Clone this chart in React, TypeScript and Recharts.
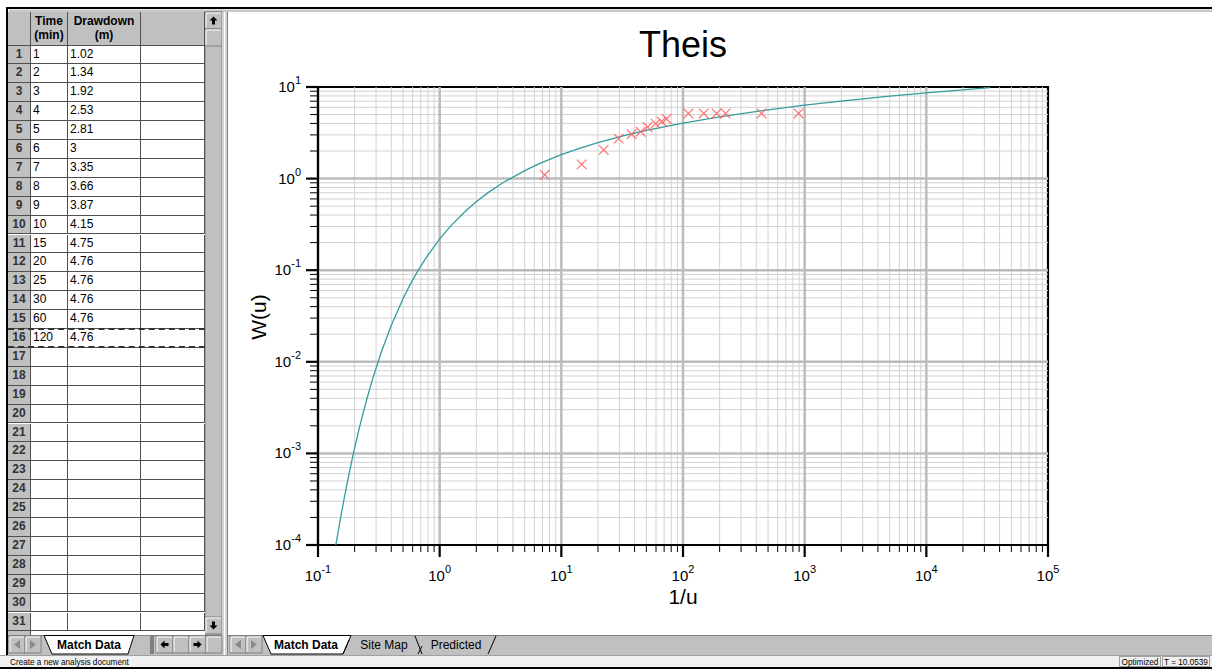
import React from "react";
import { ScatterChart, Scatter, XAxis, YAxis, ReferenceLine, ReferenceArea } from "recharts";

// spreadsheet contents
const times = [1, 2, 3, 4, 5, 6, 7, 8, 9, 10, 15, 20, 25, 30, 60, 120];
const drawdowns = ["1.02", "1.34", "1.92", "2.53", "2.81", "3", "3.35", "3.66", "3.87", "4.15", "4.75", "4.76", "4.76", "4.76", "4.76", "4.76"];

// matched data points (1/u, W(u))
const matchInvU = [7.3, 14.7, 22.3, 29.6, 37.8, 44.9, 51.2, 59.6, 66.7, 73.3, 111, 148, 189, 224, 442, 891];
const matchW = [1.1, 1.43, 2.06, 2.73, 3.05, 3.25, 3.65, 3.98, 4.2, 4.48, 5.13, 5.14, 5.14, 5.14, 5.14, 5.14];

// Theis type curve
const curveInvU = [0.14, 0.1429, 0.1538, 0.1667, 0.1818, 0.2, 0.2222, 0.25, 0.2857, 0.3333, 0.4, 0.5, 0.5714, 0.6667, 0.8, 1, 1.25, 1.667, 2, 2.5, 3.333, 5, 6.667, 10, 14.29, 20, 33.33, 50, 100, 200, 500, 1000, 2000, 5000, 10000, 20000, 33333];
const curveW = [1.0e-4, 1.15e-4, 2.03e-4, 3.6e-4, 6.41e-4, 1.148e-3, 2.073e-3, 3.779e-3, 6.97e-3, 1.305e-2, 2.491e-2, 4.89e-2, 6.95e-2, 0.1, 0.1464, 0.2194, 0.3106, 0.4544, 0.5598, 0.7024, 0.9057, 1.2227, 1.4645, 1.8229, 2.1509, 2.4679, 2.9592, 3.3547, 4.0379, 4.7261, 5.6394, 6.3315, 7.0237, 7.9398, 8.6332, 9.3263, 9.8372];

const xDecades = [0.1, 1, 10, 100, 1000, 10000, 100000];
const yDecades = [0.0001, 0.001, 0.01, 0.1, 1, 10];
const xExp = ["-1", "0", "1", "2", "3", "4", "5"];
const yExp = ["-4", "-3", "-2", "-1", "0", "1"];
const mult = [2, 3, 4, 5, 6, 7, 8, 9];

const xMinor = xDecades.slice(0, -1).flatMap((d) => mult.map((m) => d * m));
const yMinor = yDecades.slice(0, -1).flatMap((d) => mult.map((m) => d * m));
const xTicks = [...xDecades, ...xMinor].sort((a, b) => a - b);
const yTicks = [...yDecades, ...yMinor].sort((a, b) => a - b);

const curveData = curveInvU.map((x, i) => ({ x, y: curveW[i] }));
const matchData = matchInvU.map((x, i) => ({ x, y: matchW[i] }));

const font = "'Liberation Sans', Arial, Helvetica, sans-serif";

const XTick = (props: any) => {
  const { x, y, payload } = props;
  const i = xDecades.indexOf(payload.value);
  const major = i >= 0;
  return (
    <g>
      <line x1={x} x2={x} y1={y} y2={y + (major ? 12 : 7)} stroke="#000" strokeWidth={major ? 2.2 : 1} />
      {major && (
        <text x={x} y={y + 36} textAnchor="middle" fontSize={15} fontFamily={font} fill="#000">
          10<tspan dy={-8} fontSize={11}>{xExp[i]}</tspan>
        </text>
      )}
    </g>
  );
};

const YTick = (props: any) => {
  const { x, y, payload } = props;
  const i = yDecades.indexOf(payload.value);
  const major = i >= 0;
  return (
    <g>
      <line x1={x} x2={x - (major ? 12 : 8)} y1={y} y2={y} stroke="#000" strokeWidth={major ? 2.2 : 1} />
      {major && (
        <text x={x - 17} y={y + 5} textAnchor="end" fontSize={15} fontFamily={font} fill="#000">
          10<tspan dy={-8} fontSize={11}>{yExp[i]}</tspan>
        </text>
      )}
    </g>
  );
};

const Cross = (props: any) => {
  const { cx, cy } = props;
  const s = 4.8;
  return (
    <g stroke="#ff5a5a" strokeWidth={1.2} opacity={0.85}>
      <line x1={cx - s} y1={cy - s} x2={cx + s} y2={cy + s} />
      <line x1={cx - s} y1={cy + s} x2={cx + s} y2={cy - s} />
    </g>
  );
};

const NoDot = () => <g />;

function TheisChart() {
  return (
    <ScatterChart width={984} height={620} margin={{ top: 76, right: 164, bottom: 26, left: 30 }}>
      <XAxis
        type="number"
        dataKey="x"
        scale="log"
        domain={[0.1, 100000]}
        ticks={xTicks}
        interval={0}
        tick={XTick}
        tickLine={false}
        tickSize={0}
        tickMargin={0}
        height={60}
        allowDataOverflow
        axisLine={{ stroke: "#000", strokeWidth: 2.2 }}
      />
      <YAxis
        type="number"
        dataKey="y"
        scale="log"
        domain={[0.0001, 10]}
        ticks={yTicks}
        interval={0}
        tick={YTick}
        tickLine={false}
        tickSize={0}
        tickMargin={0}
        width={60}
        allowDataOverflow
        axisLine={{ stroke: "#000", strokeWidth: 2.2 }}
      />
      {xMinor.map((v) => (
        <ReferenceLine key={"xm" + v} x={v} stroke="#d2d2d2" strokeWidth={1} />
      ))}
      {yMinor.map((v) => (
        <ReferenceLine key={"ym" + v} y={v} stroke="#d2d2d2" strokeWidth={1} />
      ))}
      {xDecades.slice(1, -1).map((v) => (
        <ReferenceLine key={"xM" + v} x={v} stroke="#bcbcbc" strokeWidth={2.5} />
      ))}
      {yDecades.slice(1, -1).map((v) => (
        <ReferenceLine key={"yM" + v} y={v} stroke="#bcbcbc" strokeWidth={2.5} />
      ))}
      <ReferenceArea x1={0.1} x2={100000} y1={0.0001} y2={10} fill="none" fillOpacity={0} stroke="#000" strokeWidth={2.2} />
      <Scatter
        data={curveData}
        fill="#339c9c"
        line={{ stroke: "#339c9c", strokeWidth: 1.3 }}
        shape={NoDot}
        isAnimationActive={false}
      />
      <Scatter data={matchData} fill="#ff5a5a" shape={Cross} isAnimationActive={false} />
    </ScatterChart>
  );
}

const ROW0 = 33.5;
const ROW_H = 18.9;
const ROWS = 31;
const cols = [
  { left: 0, width: 23 },
  { left: 23, width: 37 },
  { left: 60, width: 73 },
  { left: 133, width: 64 },
];

function Sheet() {
  const rows = [];
  for (let i = 0; i < ROWS; i++) {
    const top = ROW0 + i * ROW_H;
    const vals = [String(i + 1), times[i] !== undefined ? String(times[i]) : "", drawdowns[i] ?? ""];
    rows.push(
      <div key={i} style={{ position: "absolute", left: 0, top, height: ROW_H, width: 197 }}>
        {cols.map((c, j) => (
          <div
            key={j}
            style={{
              position: "absolute",
              left: c.left,
              width: c.width,
              top: 0,
              height: ROW_H,
              boxSizing: "border-box",
              borderRight: "1px solid #505050",
              borderBottom: "1px solid #505050",
              background: j === 0 ? "#c0c0c0" : "#fff",
              fontSize: 12,
              lineHeight: ROW_H - 1 + "px",
              paddingLeft: j === 0 ? 0 : 2,
              textAlign: j === 0 ? "center" : "left",
              fontWeight: j === 0 ? "bold" : "normal",
              color: j === 0 ? "#333" : "#000",
              whiteSpace: "nowrap",
            }}
          >
            {j < 3 ? vals[j] : ""}
          </div>
        ))}
      </div>
    );
  }
  const headers = ["", "Time\n(min)", "Drawdown\n(m)", ""];
  return (
    <div style={{ position: "absolute", left: 8, top: 12, width: 197, height: 623, overflow: "hidden", fontFamily: font, background: "#fff" }}>
      {cols.map((c, j) => (
        <div
          key={"h" + j}
          style={{
            position: "absolute",
            left: c.left,
            width: c.width,
            top: 0,
            height: ROW0,
            boxSizing: "border-box",
            borderRight: "1px solid #505050",
            borderBottom: "1px solid #505050",
            background: "#c0c0c0",
            fontSize: 12,
            fontWeight: "bold",
            lineHeight: "14px",
            paddingTop: 2,
            textAlign: "center",
            whiteSpace: "pre",
            color: "#000",
          }}
        >
          {headers[j]}
        </div>
      ))}
      {rows}
      <div style={{ position: "absolute", left: 0, top: ROW0 + ROWS * ROW_H, width: 23, height: 10, background: "#c0c0c0", borderRight: "1px solid #505050", boxSizing: "border-box" }} />
      <div style={{ position: "absolute", left: 0, width: 197, top: ROW0 + 15 * ROW_H - 1.5, height: 0, borderTop: "2px dashed #333" }} />
      <div style={{ position: "absolute", left: 0, width: 197, top: ROW0 + 16 * ROW_H - 1.5, height: 0, borderTop: "2px dashed #333" }} />
    </div>
  );
}

function Arrow({ x, y, dir, color = "#000" }: { x: number; y: number; dir: "up" | "down" | "left" | "right"; color?: string }) {
  const shapes: Record<string, string> = {
    up: `M${x},${y - 4} L${x + 4},${y} L${x + 1.5},${y} L${x + 1.5},${y + 4} L${x - 1.5},${y + 4} L${x - 1.5},${y} L${x - 4},${y} Z`,
    down: `M${x},${y + 4} L${x + 4},${y} L${x + 1.5},${y} L${x + 1.5},${y - 4} L${x - 1.5},${y - 4} L${x - 1.5},${y} L${x - 4},${y} Z`,
    left: `M${x - 4},${y} L${x},${y - 4} L${x},${y - 1.5} L${x + 4},${y - 1.5} L${x + 4},${y + 1.5} L${x},${y + 1.5} L${x},${y + 4} Z`,
    right: `M${x + 4},${y} L${x},${y - 4} L${x},${y - 1.5} L${x - 4},${y - 1.5} L${x - 4},${y + 1.5} L${x},${y + 1.5} L${x},${y + 4} Z`,
  };
  return <path d={shapes[dir]} fill={color} />;
}

function Btn({ x, y, w, h }: { x: number; y: number; w: number; h: number }) {
  return (
    <g>
      <rect x={x} y={y} width={w} height={h} fill="#c0c0c0" stroke="#808080" strokeWidth={1} />
      <line x1={x + 1} y1={y + 1} x2={x + w - 1} y2={y + 1} stroke="#fff" />
      <line x1={x + 1} y1={y + 1} x2={x + 1} y2={y + h - 1} stroke="#fff" />
    </g>
  );
}

function Chrome() {
  return (
    <svg width={1212} height={669} style={{ position: "absolute", left: 0, top: 0 }} fontFamily={font}>
      {/* top border */}
      <rect x={7} y={7} width={1205} height={2} fill="#000" />
      <rect x={9} y={9.5} width={1203} height={2.5} fill="#c8c8c8" />
      {/* left border */}
      <rect x={6} y={7} width={2} height={648} fill="#000" />
      {/* scrollbar */}
      <rect x={205} y={12} width={17} height={623} fill="#c0c0c0" stroke="#808080" />
      <Btn x={205} y={12} w={17} h={17} />
      <Arrow x={213.5} y={20.5} dir="up" />
      <Btn x={205} y={29} w={17} h={17} />
      <Btn x={205} y={617} w={17} h={17} />
      <Arrow x={213.5} y={625.5} dir="down" />
      {/* splitter */}
      <rect x={222} y={12} width={5} height={643} fill="#d4d4d4" />
      <line x1={224.5} y1={12} x2={224.5} y2={655} stroke="#fff" />
      <line x1={227.5} y1={12} x2={227.5} y2={655} stroke="#808080" />

      {/* left tab strip */}
      <rect x={8} y={635} width={214} height={20} fill="#c0c0c0" />
      <line x1={8} y1={635.5} x2={222} y2={635.5} stroke="#808080" />
      <Btn x={9} y={636} w={16} h={17} />
      <path d="M20,640 L14,644.5 L20,649 Z" fill="#8a8a8a" />
      <Btn x={25} y={636} w={16} h={17} />
      <path d="M30,640 L36,644.5 L30,649 Z" fill="#8a8a8a" />
      <path d="M44,635.5 L52,654 L128,654 L134,635.5 Z" fill="#fff" stroke="#000" strokeWidth={1} />
      <text x={89} y={648.5} textAnchor="middle" fontSize={12} fontWeight="bold" fill="#000">Match Data</text>
      <rect x={150} y={636} width={4} height={18} fill="#808080" />
      <Btn x={156} y={636} w={17} h={17} />
      <Arrow x={164.5} y={644.5} dir="left" />
      <Btn x={173} y={636} w={16} h={17} />
      <Btn x={189} y={636} w={17} h={17} />
      <Arrow x={197.5} y={644.5} dir="right" />
      <Btn x={206} y={636} w={16} h={17} />

      {/* chart tab strip */}
      <rect x={228} y={635} width={984} height={20} fill="#c0c0c0" />
      <line x1={228} y1={635.5} x2={1212} y2={635.5} stroke="#808080" />
      <Btn x={230} y={636} w={16} h={17} />
      <path d="M241,640 L235,644.5 L241,649 Z" fill="#8a8a8a" />
      <Btn x={246} y={636} w={16} h={17} />
      <path d="M251,640 L257,644.5 L251,649 Z" fill="#8a8a8a" />
      <path d="M263,635.5 L271,654 L343,654 L351,635.5 Z" fill="#fff" stroke="#000" strokeWidth={1} />
      <text x={306} y={648.5} textAnchor="middle" fontSize={12} fontWeight="bold" fill="#000">Match Data</text>
      <line x1={343} y1={654} x2={349} y2={640} stroke="#000" />
      <text x={384} y={648.5} textAnchor="middle" fontSize={12} fill="#000">Site Map</text>
      <path d="M415,636 L422,654" stroke="#000" fill="none" />
      <path d="M418,654 L422,646" stroke="#000" fill="none" />
      <text x={456} y={648.5} textAnchor="middle" fontSize={12} fill="#000">Predicted</text>
      <path d="M488,654 L496,636" stroke="#000" fill="none" />

      {/* status bar */}
      <rect x={0} y={655} width={1212} height={12} fill="#f0f0f0" />
      <line x1={0} y1={655.5} x2={1212} y2={655.5} stroke="#a0a0a0" />
      <rect x={0} y={667} width={1212} height={2} fill="#000" />
      <text x={10} y={665} fontSize={8.2} fill="#000">Create a new analysis document</text>
      <rect x={1119.5} y={656.5} width={41} height={10} fill="none" stroke="#a0a0a0" />
      <text x={1140} y={665} textAnchor="middle" fontSize={8.2} fill="#000">Optimized</text>
      <rect x={1162.5} y={656.5} width={47} height={10} fill="none" stroke="#a0a0a0" />
      <text x={1186} y={665} textAnchor="middle" fontSize={8.2} fill="#000">T = 10.0539</text>
    </svg>
  );
}

export default function App() {
  return (
    <div style={{ position: "absolute", left: 0, top: 0, width: 1212, height: 669, overflow: "hidden", background: "#fff", fontFamily: font }}>
      <Chrome />
      <Sheet />
      <div style={{ position: "absolute", left: 228, top: 11 }}>
        <TheisChart />
      </div>
      <div style={{ position: "absolute", left: 583, top: 25, width: 200, height: 40, lineHeight: "40px", textAlign: "center", fontSize: 36, color: "#000" }}>
        Theis
      </div>
      <div style={{ position: "absolute", left: 633, top: 584, width: 100, height: 26, lineHeight: "26px", textAlign: "center", fontSize: 21, color: "#000" }}>
        1/u
      </div>
      <div
        style={{
          position: "absolute",
          left: 209,
          top: 304,
          width: 100,
          height: 26,
          lineHeight: "26px",
          textAlign: "center",
          fontSize: 21,
          color: "#000",
          transform: "rotate(-90deg)",
        }}
      >
        W(u)
      </div>
    </div>
  );
}
